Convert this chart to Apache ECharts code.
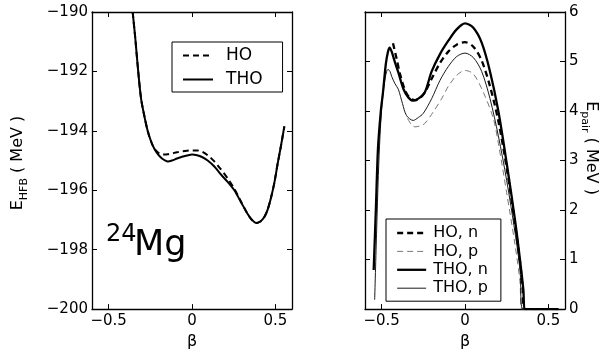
<!DOCTYPE html>
<html><head><meta charset="utf-8">
<script src="https://cdn.jsdelivr.net/npm/echarts@6/dist/echarts.min.js"></script>
<style>html,body{margin:0;padding:0;background:#fff}#c{width:613px;height:355px}</style>
</head><body><div id="c"></div>
<script>
// ---- Left panel: E_HFB vs beta ----
const betaL = [-0.356,-0.34,-0.326,-0.306,-0.286,-0.266,-0.246,-0.226,-0.2,-0.18,-0.16,-0.146,-0.12,-0.09,-0.06,-0.03,0.0,0.03,0.06,0.094,0.134,0.174,0.214,0.254,0.294,0.334,0.36,0.384,0.41,0.434,0.454,0.474,0.494,0.514,0.534,0.554];
const eHFB_THO = [-190.0,-190.9,-191.8,-192.9,-193.5,-194.0,-194.35,-194.6,-194.82,-194.93,-195.0,-195.03,-195.0,-194.93,-194.87,-194.83,-194.8,-194.82,-194.88,-195.0,-195.2,-195.47,-195.72,-196.0,-196.4,-196.8,-197.0,-197.1,-197.05,-196.9,-196.65,-196.25,-195.75,-195.1,-194.5,-193.85];
const eHFB_HO = [-190.0,-190.9,-191.8,-192.9,-193.5,-194.0,-194.35,-194.6,-194.75,-194.8,-194.8,-194.79,-194.76,-194.72,-194.69,-194.67,-194.66,-194.66,-194.7,-194.82,-195.03,-195.3,-195.6,-195.95,-196.38,-196.8,-197.0,-197.1,-197.05,-196.9,-196.65,-196.25,-195.75,-195.1,-194.5,-193.85];

// ---- Right panel: E_pair vs beta ----
const betaTHOn = [-0.548,-0.535,-0.522,-0.505,-0.492,-0.475,-0.462,-0.452,-0.44,-0.42,-0.40,-0.37,-0.341,-0.311,-0.28,-0.241,-0.2,-0.15,-0.1,-0.05,0,0.05,0.1,0.15,0.2,0.25,0.3,0.33,0.35,0.362,0.45,0.56];
const eTHOn = [0.79,2.0,3.25,4.0,4.38,4.95,5.2,5.28,5.2,4.98,4.78,4.45,4.28,4.21,4.25,4.38,4.8,5.15,5.42,5.65,5.77,5.68,5.38,4.8,4.0,2.95,1.8,1.0,0.4,0,0,0];
const betaTHOp = [-0.542,-0.53,-0.52,-0.51,-0.50,-0.49,-0.48,-0.47,-0.462,-0.45,-0.44,-0.42,-0.40,-0.375,-0.351,-0.311,-0.28,-0.251,-0.2,-0.15,-0.1,-0.05,0,0.05,0.1,0.15,0.2,0.25,0.3,0.33,0.346,0.45,0.56];
const eTHOp = [0.19,1.6,2.7,3.5,4.05,4.4,4.65,4.8,4.84,4.8,4.7,4.55,4.44,4.15,3.91,3.81,3.87,3.95,4.25,4.62,4.9,5.1,5.17,5.08,4.8,4.25,3.5,2.6,1.55,0.8,0,0,0];
const betaHOn = [-0.432,-0.41,-0.39,-0.36,-0.33,-0.30,-0.27,-0.24,-0.2,-0.15,-0.1,-0.05,0,0.05,0.1,0.15,0.2,0.25,0.3,0.33,0.345,0.356,0.45,0.56];
const eHOn = [5.37,5.05,4.75,4.42,4.26,4.22,4.26,4.38,4.65,4.97,5.2,5.34,5.39,5.3,5.02,4.5,3.8,2.85,1.72,0.95,0.45,0,0,0];
const betaHOp = [-0.345,-0.32,-0.30,-0.27,-0.241,-0.191,-0.14,-0.1,-0.05,0,0.05,0.11,0.17,0.2,0.25,0.3,0.33,0.34,0.45,0.56];
const eHOp = [3.85,3.72,3.68,3.7,3.75,3.98,4.25,4.5,4.72,4.82,4.75,4.38,3.85,3.35,2.35,1.3,0.55,0,0,0];

const xTicks = [-0.5, 0, 0.5];
const legendL = ['HO', 'THO'];
const legendR = ['HO, n', 'HO, p', 'THO, n', 'THO, p'];

const FONT = 'DejaVu Sans';
const zip = (a, b) => a.map((v, i) => [v, b[i]]);
const fmt = v => String(v).replace('-', '\u2212');

// style per series name (used by both series and legend)
const styles = {
  'HO':     {color: '#000', width: 2,   dashed: true},
  'THO':    {color: '#000', width: 2,   dashed: false},
  'HO, n':  {color: '#000', width: 2.3, dashed: true},
  'HO, p':  {color: '#777', width: 1,   dashed: true},
  'THO, n': {color: '#000', width: 2.3, dashed: false},
  'THO, p': {color: '#000', width: 0.9, dashed: false}
};
const ls = n => ({color: styles[n].color, width: styles[n].width, type: styles[n].dashed ? [6, 4] : 'solid'});

function xAx(gi, pos, show) {
  return {
    type: 'value', gridIndex: gi, position: pos, min: -0.6, max: 0.6,
    axisLine: {show: true, onZero: false, lineStyle: {color: '#000', width: 1.3}},
    axisTick: {show: true, inside: true, length: 5, customValues: xTicks, lineStyle: {color: '#000', width: 1}},
    axisLabel: {show: show, customValues: xTicks, formatter: fmt, color: '#000', fontSize: 15, fontFamily: FONT, margin: 5},
    splitLine: {show: false},
    name: show ? 'β' : '', nameLocation: 'middle', nameGap: 21,
    nameTextStyle: {color: '#000', fontSize: 16, fontFamily: FONT}
  };
}
function yAx(gi, pos, show, min, max, interval) {
  return {
    type: 'value', gridIndex: gi, position: pos, min: min, max: max, interval: interval,
    axisLine: {show: true, onZero: false, lineStyle: {color: '#000', width: 1.3}},
    axisTick: {show: true, inside: true, length: 5, lineStyle: {color: '#000', width: 1}},
    axisLabel: {show: show, formatter: fmt, color: '#000', fontSize: 15, fontFamily: FONT, margin: 4},
    splitLine: {show: false}
  };
}
function line(name, xi, yi, bx, ey) {
  return {
    name: name, type: 'line', xAxisIndex: xi, yAxisIndex: yi, data: zip(bx, ey),
    symbol: 'none', smooth: 0.3, clip: true,
    lineStyle: ls(name), itemStyle: {color: styles[name].color}
  };
}
const legendItems = names => names.map(n => ({name: n, lineStyle: ls(n), itemStyle: {opacity: 0}}));

const chart = echarts.init(document.getElementById('c'), null, {renderer: 'canvas'});
chart.setOption({
  animation: false,
  backgroundColor: '#fff',
  grid: [
    {left: 92, top: 12, width: 200, height: 301},
    {left: 365, top: 12, width: 200, height: 301}
  ],
  xAxis: [xAx(0, 'bottom', true), xAx(0, 'top', false), xAx(1, 'bottom', true), xAx(1, 'top', false)],
  yAxis: [yAx(0, 'left', true, -200, -190, 2), yAx(0, 'right', false, -200, -190, 2),
          yAx(1, 'right', true, 0, 6, 1), yAx(1, 'left', false, 0, 6, 1)],
  legend: [
    {data: legendItems(legendL), orient: 'vertical', left: 172, top: 42, itemWidth: 30, itemHeight: 14, itemGap: 7,
     padding: [5, 20, 4, 10], borderColor: '#000', borderWidth: 1, backgroundColor: '#fff',
     itemStyle: {opacity: 0}, selectedMode: false,
     textStyle: {fontSize: 17, lineHeight: 14, fontFamily: FONT, color: '#000', padding: [0, 0, 0, 8]}},
    {data: legendItems(legendR), orient: 'vertical', left: 386, top: 219, itemWidth: 29, itemHeight: 14, itemGap: 2.4,
     padding: [6, 13, 5, 10], borderColor: '#000', borderWidth: 1, backgroundColor: '#fff',
     itemStyle: {opacity: 0}, selectedMode: false,
     textStyle: {fontSize: 16, lineHeight: 14, fontFamily: FONT, color: '#000', padding: [0, 0, 0, 2]}}
  ],
  series: [
    line('HO', 0, 0, betaL, eHFB_HO),
    line('THO', 0, 0, betaL, eHFB_THO),
    line('HO, n', 2, 2, betaHOn, eHOn),
    line('HO, p', 2, 2, betaHOp, eHOp),
    line('THO, n', 2, 2, betaTHOn, eTHOn),
    line('THO, p', 2, 2, betaTHOp, eTHOp)
  ],
  graphic: [
    {type: 'text', x: 18, y: 163, rotation: Math.PI / 2,
     style: {text: '{a|E}{b|HFB}{a| ( MeV )}', align: 'center', verticalAlign: 'middle',
       rich: {a: {fontSize: 16, fontFamily: FONT, fill: '#000', lineHeight: 24, verticalAlign: 'middle'},
              b: {fontSize: 11, fontFamily: FONT, fill: '#000', lineHeight: 12, verticalAlign: 'bottom'}}}},
    {type: 'text', x: 591, y: 148, rotation: -Math.PI / 2,
     style: {text: '{a|E}{b|pair}{a| ( MeV )}', align: 'center', verticalAlign: 'middle',
       rich: {a: {fontSize: 16, fontFamily: FONT, fill: '#000', lineHeight: 24, verticalAlign: 'middle'},
              b: {fontSize: 11, fontFamily: FONT, fill: '#000', lineHeight: 12, verticalAlign: 'bottom'}}}},
    {type: 'text', x: 106, y: 235, style: {text: '24', fontSize: 24, fontFamily: FONT, fill: '#000', align: 'left', verticalAlign: 'middle'}},
    {type: 'text', x: 134, y: 246, style: {text: 'Mg', fontSize: 35, fontFamily: FONT, fill: '#000', align: 'left', verticalAlign: 'middle'}}
  ]
});
</script></body></html>
